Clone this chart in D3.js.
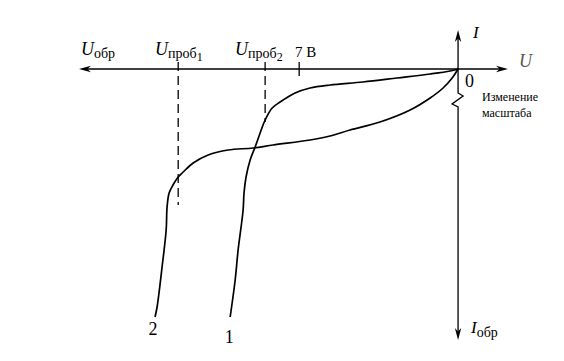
<!DOCTYPE html>
<html><head><meta charset="utf-8">
<script src="https://cdn.jsdelivr.net/npm/d3@7"></script>
<style>body{margin:0;background:#fff}svg{display:block}</style>
</head><body><svg id="c" width="564" height="361"></svg>
<script>
// Data (U in volts, I in arbitrary units; reverse branch)
const curve1U = [0, -0.35, -1.23, -2.69, -4.19, -5.64, -6.52, -7.18, -7.84, -8.19, -8.50, -8.72, -8.94, -9.16, -9.34, -9.43, -9.47, -9.69, -9.82, -10.04];
const curve1I = [0, -0.2, -0.5, -0.9, -1.3, -1.6, -1.9, -2.4, -3.3, -3.9, -5.1, -6.4, -7.8, -9.1, -10.8, -12.4, -14.1, -18.1, -21.1, -24.8];
const curve2U = [0, -0.26, -0.66, -1.23, -2.11, -3.44, -4.76, -5.64, -6.52, -8.15, -9.03, -10.13, -11.01, -11.67, -12.11, -12.33, -12.56, -12.73, -12.82, -12.86, -13.04, -13.26, -13.35];
const curve2I = [0, -0.9, -1.9, -2.9, -4.1, -5.3, -6.1, -6.7, -7.1, -7.6, -7.9, -8.1, -8.6, -9.4, -10.3, -10.8, -11.6, -12.4, -13.8, -16.1, -19.8, -23.8, -24.8];
const breakdownU = [-12.33, -8.5];      // U проб1, U проб2
const breakdownEndI = [-13.6, -5.3];    // where dashed lines end
const tick7U = -7;
const curveLabels = ["1", "2"];

const FONT = "'Liberation Serif', 'Times New Roman', 'DejaVu Serif', serif";
const svg = d3.select("#c").attr("font-family", FONT);
const x = d3.scaleLinear().domain([-16.7, 2.2]).range([79, 508]);
const y = d3.scaleLinear().domain([3.9, -27.1]).range([30, 340]);
const x0 = x(0), y0 = y(0);

// axes
svg.append("line").attr("x1", x.range()[0] + 8).attr("x2", x.range()[1] - 6).attr("y1", y0).attr("y2", y0).attr("stroke", "#000").attr("stroke-width", 1.3);
svg.append("path").attr("d", `M${x0},${y(3.9)+8}V${y(-2.4)}l5,3l-11,8l6,3V${y(-27.1)-8}`).attr("fill", "none").attr("stroke", "#000").attr("stroke-width", 1.3);
function arrow(tx, ty, dx, dy) {
  const L = 12, W = 3.2, px = -dy, py = dx;
  svg.append("path").attr("d", `M${tx},${ty}L${tx - dx*L + px*W},${ty - dy*L + py*W}L${tx - dx*L*0.7},${ty - dy*L*0.7}L${tx - dx*L - px*W},${ty - dy*L - py*W}Z`).attr("fill", "#000");
}
arrow(x.range()[0], y0, -1, 0);
arrow(x.range()[1], y0, 1, 0);
arrow(x0, y(3.9), 0, -1);
arrow(x0, y(-27.1), 0, 1);

// dashed breakdown lines
breakdownU.forEach((u, i) => {
  svg.append("line").attr("x1", x(u)).attr("x2", x(u)).attr("y1", y0 - 7).attr("y2", y(breakdownEndI[i]))
    .attr("stroke", "#000").attr("stroke-width", 1.3).attr("stroke-dasharray", "9,5");
});
svg.append("line").attr("x1", x(tick7U)).attr("x2", x(tick7U)).attr("y1", y0 - 7).attr("y2", y0 + 7).attr("stroke", "#000").attr("stroke-width", 1.3);

// curves
const line = d3.line().x(d => x(d[0])).y(d => y(d[1])).curve(d3.curveCatmullRom.alpha(0.5));
const c1 = curve1U.map((u, i) => [u, curve1I[i]]);
const c2 = curve2U.map((u, i) => [u, curve2I[i]]);
[c1, c2].forEach(c => svg.append("path").attr("d", line(c)).attr("fill", "none").attr("stroke", "#000").attr("stroke-width", 1.7));

// labels
function txt(xp, yp, size) {
  return svg.append("text").attr("x", xp).attr("y", yp).attr("font-size", size).attr("font-family", FONT).attr("fill", "#000");
}
function ulabel(xp, yp, main, sub, subsub) {
  const t = txt(xp, yp, 18);
  t.append("tspan").attr("font-style", "italic").text(main);
  t.append("tspan").attr("font-size", 14).attr("dy", 3).text(sub);
  if (subsub) t.append("tspan").attr("font-size", 12).attr("dy", 3).text(subsub);
}
ulabel(81, 55, "U", "обр");
ulabel(155, 55, "U", "проб", "1");
ulabel(235, 55, "U", "проб", "2");
txt(295, 57, 15).text("7 В");
txt(473, 38, 17).attr("font-style", "italic").text("I");
txt(519, 67, 18).attr("font-style", "italic").attr("fill", "#555").text("U");
txt(465, 87, 18).text("0");
txt(482, 101, 12).text("Изменение");
txt(482, 117, 12).text("масштаба");
const it = txt(471, 333, 17);
it.append("tspan").attr("font-style", "italic").text("I");
it.append("tspan").attr("font-size", 14).attr("dy", 4).text("обр");
txt(x(c1[c1.length-1][0]) - 1, 343, 18).attr("text-anchor", "middle").text(curveLabels[0]);
txt(x(c2[c2.length-1][0]) - 2, 335, 18).attr("text-anchor", "middle").text(curveLabels[1]);
</script></body></html>
